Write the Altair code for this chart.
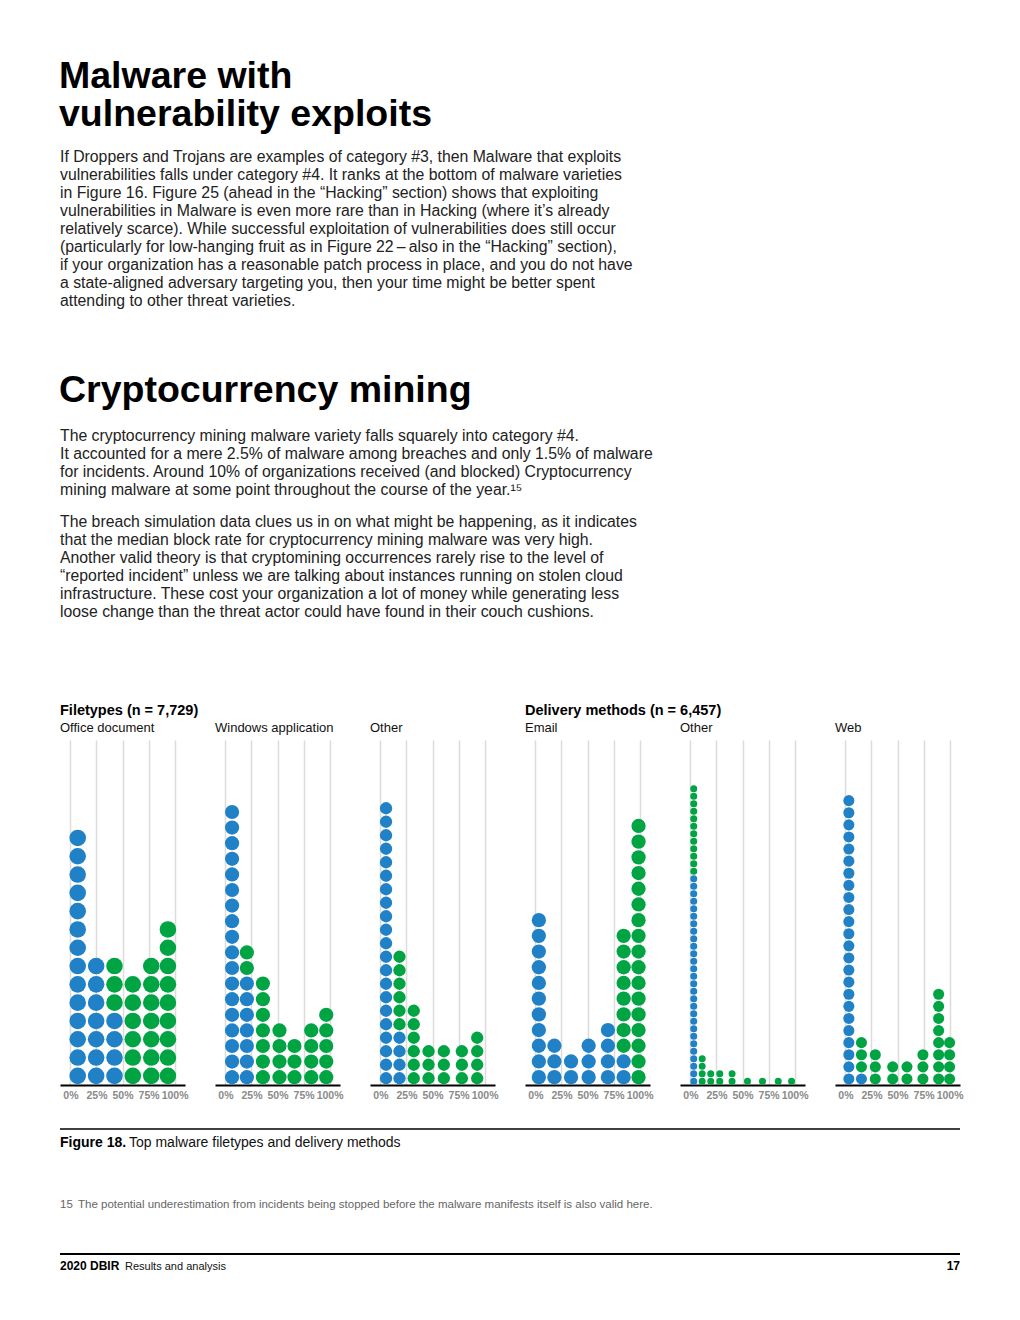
import math
import altair as alt
import pandas as pd

# ---------------- data ----------------
group_titles = ["Filetypes (n = 7,729)", "Delivery methods (n = 6,457)"]
panel_titles = ["Office document", "Windows application", "Other", "Email", "Other", "Web"]

office_x = [7.0, 24.7, 42.3, 59.9, 77.6, 93.6]
office_blue = [14, 7, 4, 0, 0, 0]
office_green = [0, 0, 3, 6, 7, 9]

windows_x = [6.4, 20.6, 36.0, 51.9, 66.3, 82.4, 96.8]
windows_blue = [18, 7, 0, 0, 0, 0, 0]
windows_green = [0, 2, 7, 4, 3, 4, 5]

ftother_x = [5.4, 18.3, 32.0, 46.2, 60.9, 78.2, 92.9]
ftother_blue = [21, 4, 0, 0, 0, 0, 0]
ftother_green = [0, 6, 6, 3, 3, 3, 4]

email_x = [3.3, 18.2, 34.2, 51.1, 69.6, 84.7, 99.0]
email_blue = [11, 3, 2, 3, 4, 2, 0]
email_green = [0, 0, 0, 0, 0, 8, 17]

dmother_x = [3.2, 11.3, 19.5, 28.2, 40.0, 54.8, 69.2, 84.3, 97.1]
dmother_blue = [28, 0, 0, 0, 0, 0, 0, 0, 0]
dmother_green = [12, 4, 2, 2, 2, 1, 1, 1, 1]

web_x = [3.3, 15.4, 28.7, 45.4, 59.1, 74.4, 89.5, 100.0]
web_blue = [24, 1, 0, 0, 0, 0, 0, 0]
web_green = [0, 3, 3, 2, 2, 3, 8, 4]

tick_values = [0, 25, 50, 75, 100]

heading1 = ["Malware with", "vulnerability exploits"]
para1 = [
    "If Droppers and Trojans are examples of category #3, then Malware that exploits",
    "vulnerabilities falls under category #4. It ranks at the bottom of malware varieties",
    "in Figure 16. Figure 25 (ahead in the \u201cHacking\u201d section) shows that exploiting",
    "vulnerabilities in Malware is even more rare than in Hacking (where it\u2019s already",
    "relatively scarce). While successful exploitation of vulnerabilities does still occur",
    "(particularly for low-hanging fruit as in Figure 22\u2009\u2013\u2009also in the \u201cHacking\u201d section),",
    "if your organization has a reasonable patch process in place, and you do not have",
    "a state-aligned adversary targeting you, then your time might be better spent",
    "attending to other threat varieties.",
]
heading2 = "Cryptocurrency mining"
para2 = [
    "The cryptocurrency mining malware variety falls squarely into category #4.",
    "It accounted for a mere 2.5% of malware among breaches and only 1.5% of malware",
    "for incidents. Around 10% of organizations received (and blocked) Cryptocurrency",
    "mining malware at some point throughout the course of the year.\u00b9\u2075",
]
para3 = [
    "The breach simulation data clues us in on what might be happening, as it indicates",
    "that the median block rate for cryptocurrency mining malware was very high.",
    "Another valid theory is that cryptomining occurrences rarely rise to the level of",
    "\u201creported incident\u201d unless we are talking about instances running on stolen cloud",
    "infrastructure. These cost your organization a lot of money while generating less",
    "loose change than the threat actor could have found in their couch cushions.",
]
caption_bold = "Figure 18."
caption_text = "Top malware filetypes and delivery methods"
footnote_num = "15"
footnote_text = "The potential underestimation from incidents being stopped before the malware manifests itself is also valid here."
footer_bold = "2020 DBIR"
footer_text = "Results and analysis"
page_number = "17"

# ---------------- styling / layout ----------------
FONT = "Liberation Sans"
BLUE = "#2181c6"
GREEN = "#00a443"
PW, PH = 125, 345          # panel plot size
PANEL_GAP = 30
PAGE_W = 1004
T_H = 732                  # top text block height
B_TOP = 1100               # page y where bottom block starts
BODY = 15.8
pitches = [18.3, 15.6, 13.5, 15.7, 7.5, 12.1]


def dots(xs, blues, greens):
    rows = []
    for x, b, g in zip(xs, blues, greens):
        for i in range(b):
            rows.append({"pct": x, "level": i + 0.5, "kind": "blue"})
        for j in range(g):
            rows.append({"pct": x, "level": b + j + 0.5, "kind": "green"})
    return pd.DataFrame(rows)


def panel(df, pitch):
    d = pitch + 0.4
    return alt.Chart(df).mark_circle(size=math.pi * d * d / 4, opacity=1).encode(
        x=alt.X(
            "pct:Q",
            scale=alt.Scale(domain=[-10, 110], nice=False, zero=False),
            axis=alt.Axis(
                values=tick_values, labelExpr="datum.value + '%'", title=None,
                grid=True, gridColor="#dcdcdc", gridWidth=1.5,
                domainColor="#000000", domainWidth=2, ticks=False,
                labelFont=FONT, labelFontSize=10.5, labelFontWeight="bold",
                labelColor="#8a8a8a", labelPadding=5,
                labelOverlap=False, labelFlush=False,
            ),
        ),
        y=alt.Y("level:Q", scale=alt.Scale(domain=[0, PH / pitch], nice=False, zero=False), axis=None),
        color=alt.Color("kind:N", scale=alt.Scale(domain=["blue", "green"], range=[BLUE, GREEN]), legend=None),
    ).properties(width=PW, height=PH)


one = pd.DataFrame({"v": [0]})


def txt(text, x, y, size, weight="normal", color="#222222", baseline="alphabetic", align="left", lh=None):
    kw = dict(text=text, fontSize=size, fontWeight=weight, color=color,
              baseline=baseline, align=align, font=FONT)
    if lh:
        kw["lineHeight"] = lh
    return alt.Chart(one).mark_text(**kw).encode(x=alt.value(x), y=alt.value(y))


panel_left = [60 + i * (PW + PANEL_GAP) for i in range(6)]  # page x

# ---------- top block ----------
top_layers = [
    txt(heading1, 51, 50, 37.5, weight="bold", color="#000000", baseline="top", lh=38),
    txt(para1, 52, 141.5, BODY, baseline="top", lh=18),
    txt(heading2, 51, 394, 37.5, weight="bold", color="#000000"),
    txt(para2, 52, 420.5, BODY, baseline="top", lh=18),
    txt(para3, 52, 506.5, BODY, baseline="top", lh=18),
    txt(group_titles[0], panel_left[0] - 8, 707, 14.5, weight="bold", color="#000000"),
    txt(group_titles[1], panel_left[3] - 8, 707, 14.5, weight="bold", color="#000000"),
]
for i, t in enumerate(panel_titles):
    top_layers.append(txt(t, panel_left[i] - 8, 724, 13, color="#111111"))
top = alt.layer(*top_layers).properties(width=PAGE_W, height=T_H)

# ---------- dot panels ----------
spacer = alt.Chart(one).mark_point(opacity=0, size=1).encode(
    x=alt.value(10), y=alt.value(10)).properties(width=panel_left[0] - 8 - PANEL_GAP, height=PH)
panels = [
    panel(dots(office_x, office_blue, office_green), pitches[0]),
    panel(dots(windows_x, windows_blue, windows_green), pitches[1]),
    panel(dots(ftother_x, ftother_blue, ftother_green), pitches[2]),
    panel(dots(email_x, email_blue, email_green), pitches[3]),
    panel(dots(dmother_x, dmother_blue, dmother_green), pitches[4]),
    panel(dots(web_x, web_blue, web_green), pitches[5]),
]
middle = alt.hconcat(spacer, *panels, spacing=PANEL_GAP, bounds="flush")

# ---------- bottom block ----------
def by(page_y):
    return page_y - B_TOP

bottom_layers = [
    alt.Chart(one).mark_rule(color="#000000", strokeWidth=1.5).encode(
        x=alt.value(52), x2=alt.value(952), y=alt.value(by(1128))),
    txt(caption_bold, 52, by(1145.5), 14, weight="bold", color="#000000"),
    txt(caption_text, 121, by(1145.5), 14, color="#111111"),
    txt(footnote_num, 52, by(1207), 11.5, color="#666666"),
    txt(footnote_text, 70, by(1207), 11.5, color="#666666"),
    alt.Chart(one).mark_rule(color="#000000", strokeWidth=2).encode(
        x=alt.value(52), x2=alt.value(952), y=alt.value(by(1253))),
    txt(footer_bold, 52, by(1269), 12, weight="bold", color="#000000"),
    txt(footer_text, 117, by(1269), 11, color="#111111"),
    txt(page_number, 952, by(1269), 12, weight="bold", color="#000000", align="right"),
]
bottom = alt.layer(*bottom_layers).properties(width=PAGE_W, height=185)

chart = alt.vconcat(top, middle, bottom, spacing=0).properties(padding=0).configure_view(strokeWidth=0)
chart.save("out.html", embed_options={"renderer": "svg", "actions": False})
